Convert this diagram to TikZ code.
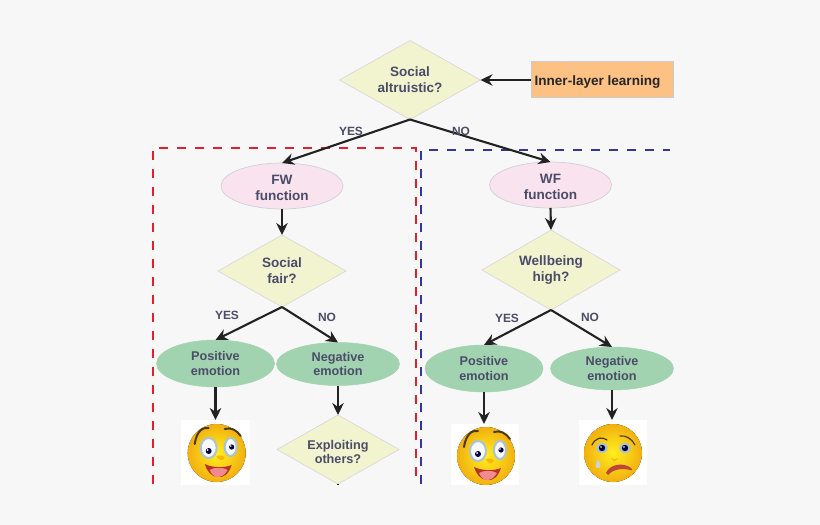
\documentclass[tikz,border=0pt]{standalone}
\usepackage{fontspec}
\setmainfont{Liberation Sans}
\usetikzlibrary{shapes.geometric,arrows.meta}
\definecolor{pagebg}{HTML}{F7F7F7}
\definecolor{lbl}{HTML}{4A4C68}
\definecolor{dfill}{HTML}{F1F4CF}
\definecolor{efill}{HTML}{F9E3EE}
\definecolor{gfill}{HTML}{A2D3B0}
\definecolor{ofill}{HTML}{FCC183}
\definecolor{rdash}{HTML}{E0202F}
\definecolor{bdash}{HTML}{34369A}
\definecolor{conn}{HTML}{222222}
\definecolor{ballin}{HTML}{FFEF1E}
\definecolor{ballout}{HTML}{F2B010}
\definecolor{socket}{HTML}{A9C4D4}
\definecolor{brow}{HTML}{4A3A12}
\definecolor{mouthdk}{HTML}{B5341F}
\definecolor{mouthpk}{HTML}{F08A90}
\tikzset{
  x=1bp,y=-1bp,
  base/.style={font=\bfseries\fontsize{13.6}{16}\selectfont,text=lbl,align=center,inner sep=0pt,outer sep=0pt},
  smalltext/.style={font=\bfseries\fontsize{12.7}{14.5}\selectfont},
  dia/.style={base,shape=diamond,fill=dfill,draw=black!15,line width=.7pt,shape aspect=1.75},
  ell/.style={base,shape=ellipse,fill=efill,draw=black!18,line width=.7pt},
  gell/.style={base,smalltext,shape=ellipse,fill=gfill,draw=gfill,line width=.5pt},
  conn/.style={draw=conn,line width=2.1pt,-{Stealth[length=12bp,width=11.5bp]},shorten >=0pt},
  yn/.style={base,font=\bfseries\fontsize{12}{14}\selectfont},
  facebox/.style={fill=white,inner sep=0pt,outer sep=0pt,anchor=center},
  dashr/.style={draw=rdash,line width=2.6pt,dash pattern=on 9bp off 9bp},
  dashb/.style={draw=bdash,line width=2.6pt,dash pattern=on 9bp off 9bp}
}
\newcommand{\ballface}[2]{%
  \fill[inner color=ballin,outer color=ballout,draw=none] (#1,#2) circle[radius=29];
}
\newcommand{\happyface}[2]{%
  \ballface{#1}{#2}
  \begin{scope}[shift={(#1,#2)}]
    \draw[brow,line width=2pt,line cap=round] (-22,-9) .. controls (-20,-22) and (-14,-26) .. (-8,-25);
    \draw[brow,line width=2pt,line cap=round] (8,-24) .. controls (14,-26) and (20,-23) .. (24,-17);
    \fill[white!92!socket,draw=socket,line width=2pt] (-8,-5) ellipse[x radius=8,y radius=10];
    \fill[white!92!socket,draw=socket,line width=2pt] (14,-6) ellipse[x radius=6,y radius=9];
    \fill[black!75!blue] (-8,-2) circle[radius=3];
    \fill[black!75!blue] (15,-6) circle[radius=2.6];
    \fill[white] (-9,-3) circle[radius=1];
    \fill[white] (14,-7) circle[radius=.9];
    \fill[orange!60!yellow] (1,5) .. controls (-3,3) and (4,1) .. (8,4) .. controls (7,8) and (4,8) .. (1,5) -- cycle;
    \fill[mouthdk] (-12,11) .. controls (-4,15) and (8,15) .. (15,12) .. controls (12,21) and (7,25) .. (1,24) .. controls (-5,24) and (-10,18) .. (-12,11) -- cycle;
    \fill[mouthpk] (-7,17) .. controls (-2,14) and (6,14) .. (11,17) .. controls (8,22) and (5,24) .. (1,24) .. controls (-3,24) and (-5,21) .. (-7,17) -- cycle;
  \end{scope}
}
\newcommand{\sadface}[2]{%
  \ballface{#1}{#2}
  \begin{scope}[shift={(#1,#2)}]
    \draw[brow,line width=1.2pt,line cap=round] (-21,-8) .. controls (-18,-15) and (-11,-17) .. (-6,-13);
    \draw[brow,line width=1.2pt,line cap=round] (7,-17) .. controls (13,-18) and (19,-14) .. (22,-8);
    \fill[socket] (-11,-5) ellipse[x radius=6,y radius=5];
    \fill[socket] (12,-5) ellipse[x radius=6,y radius=5];
    \fill[black!80!blue] (-11,-5) circle[radius=3.2];
    \fill[black!80!blue] (12,-5) circle[radius=3.2];
    \fill[white] (-12,-6) circle[radius=.9];
    \fill[white] (11,-6) circle[radius=.9];
    \fill[socket!70!white] (-15,6) .. controls (-12,12) and (-12,15) .. (-15,15) .. controls (-18,15) and (-18,12) .. (-15,6) -- cycle;
    \fill[orange!60!yellow] (-2,5) .. controls (0,7) and (3,7) .. (5,5) .. controls (3,9) and (0,9) .. (-2,5) -- cycle;
    \fill[mouthdk!80!mouthpk] (-7,20) .. controls (-3,11) and (10,9) .. (18,15) .. controls (20,17) and (19,18) .. (17,17) .. controls (10,15) and (0,16) .. (-5,22) -- cycle;
  \end{scope}
}
\newcommand{\dropline}{\rule{0pt}{14pt}}
\begin{document}
\begin{tikzpicture}
\useasboundingbox (0,0) rectangle (820,525);
\fill[pagebg] (0,0) rectangle (820,525);
% dashed frames
\draw[dashr] (153,484) -- (153,148) -- (416,148) -- (416,484);
\draw[dashb] (421,484) -- (421,150) -- (670,150);
% nodes
\node[dia,minimum width=141bp,minimum height=79bp] (sa) at (410,80) {Social\\altruistic?};
\node[base,fill=ofill,draw=black!20,line width=1pt,minimum width=142bp,minimum height=36bp,text=black!85] (inner) at (602,80) {\dropline Inner-layer learning\hspace*{9bp}};
\node[ell,minimum width=122bp,minimum height=46bp] (fw) at (282,186) {\dropline FW\\function};
\node[ell,minimum width=122bp,minimum height=46bp] (wf) at (550.5,185) {\dropline WF\\function};
\node[dia,minimum width=128bp,minimum height=72bp] (sf) at (282,271) {Social\\fair?};
\node[dia,minimum width=138bp,minimum height=80bp] (wb) at (551,270) {Wellbeing\\high?};
\node[gell,minimum width=118bp,minimum height=47bp] (p1) at (215.5,363.5) {Positive\\emotion};
\node[gell,minimum width=123bp,minimum height=43bp] (n1) at (338,364) {Negative\\emotion};
\node[gell,minimum width=118bp,minimum height=47bp] (p2) at (484,368.5) {Positive\\emotion};
\node[gell,minimum width=123bp,minimum height=43bp] (n2) at (612,368.5) {Negative\\emotion};
\node[dia,smalltext,minimum width=122bp,minimum height=69bp] (ex) at (338,449.5) {\dropline Exploiting\\others?};
\coordinate (exend) at (338,485);
% faces
\node[facebox,minimum width=69bp,minimum height=65bp] (f1) at (215.5,452.5) {};
\node[facebox,minimum width=68bp,minimum height=61bp] (f2) at (485,454.5) {};
\node[facebox,minimum width=68bp,minimum height=65bp] (f3) at (613,452.5) {};
\happyface{216.7}{453}
\happyface{486}{456}
\sadface{613}{453}
% connectors
\draw[conn] (inner.west) -- (sa.east);
\draw[conn] (sa.south) -- (fw.north);
\draw[conn] (sa.south) -- (wf.north);
\draw[conn] (fw.south) -- (sf.north);
\draw[conn] (wf.south) -- (wb.north);
\draw[conn] (sf.south) -- (p1.north);
\draw[conn] (sf.south) -- (n1.north);
\draw[conn] (wb.south) -- (p2.north);
\draw[conn] (wb.south) -- (n2.north);
\draw[conn] (p1.south) -- (p1.south |- f1.north);
\draw[conn] (n1.south) -- (ex.north);
\draw[conn] (p2.south) -- (p2.south |- f2.north);
\draw[conn] (n2.south) -- (n2.south |- f3.north);
\draw[draw=conn,line width=1.2pt] (ex.south) -- (exend);
% labels
\node[yn] (ly1) at (351,131.5) {YES};
\node[yn] (ln1) at (461,131) {NO};
\node[yn] (ly2) at (227,315.5) {YES};
\node[yn] (ln2) at (327,317) {NO};
\node[yn] (ly3) at (507,318) {YES};
\node[yn] (ln3) at (590,317) {NO};
\end{tikzpicture}
\end{document}
